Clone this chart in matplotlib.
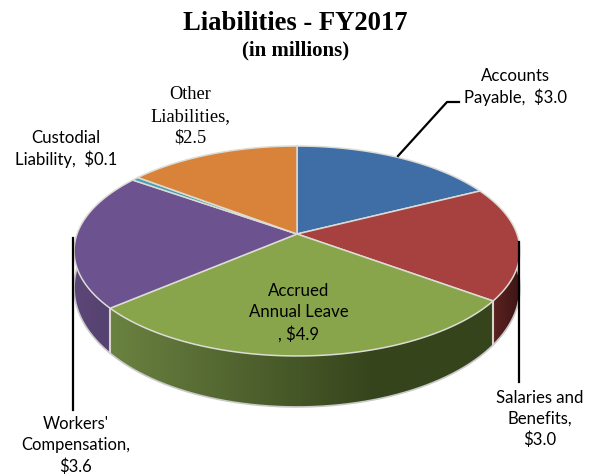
import numpy as np
import matplotlib
matplotlib.use('Agg')
import matplotlib.pyplot as plt
from matplotlib.patches import Polygon

# Liabilities by category, in millions
categories = ['Accounts Payable', 'Salaries and Benefits', 'Accrued Annual Leave',
              "Workers' Compensation", 'Custodial Liability', 'Other Liabilities']
values = [3.0, 3.0, 4.9, 3.6, 0.1, 2.5]
top_colors = ['#3f6ea6', '#a64140', '#88a54c', '#6d5290', '#4a9fb5', '#d9823a']
side_colors = [('#2c4d75', '#2c4d75'), ('#5c2322', '#3c1413'), ('#6a8241', '#36441c'),
               ('#5c4779', '#55416f'), ('#3a8093', '#3a8093'), ('#b06a2e', '#b06a2e')]

# Perspective disc: centre and radii in pixels
cx, cy = 297, 235
a, b, k = 220, 102.2, 0.162


def rim(theta, lower=False):
    # theta runs clockwise from 12 o'clock
    u, s = np.sin(theta), -np.cos(theta)
    w = 1 - k * s
    x = cx + a * u / w
    y = cy + b * s / w
    if lower:
        y = y + 34 + 17 * s
    return x, y


fig = plt.figure(figsize=(5.95, 4.77), dpi=100)
ax = fig.add_axes([0, 0, 1, 1])
ax.set_xlim(0, 595)
ax.set_ylim(477, 0)
ax.axis('off')

edges = np.concatenate([[0], np.cumsum(values)]) / sum(values) * 2 * np.pi

# Side wall, only the part of each slice facing the viewer
front_a, front_b = np.radians(84), np.radians(276)
for i in range(len(values)):
    t0, t1 = max(edges[i], front_a), min(edges[i + 1], front_b)
    if t1 <= t0:
        continue
    t = np.linspace(t0, t1, 120)
    x0, y0 = rim(t)
    x1, y1 = rim(t, lower=True)
    left, right = side_colors[i]
    c0 = np.array(matplotlib.colors.to_rgb(left))
    c1 = np.array(matplotlib.colors.to_rgb(right))
    ramp = np.linspace(0, 1, 256)[None, :, None]
    if i == 2:
        # the long front slice stays lighter on its left half
        ramp = np.clip(ramp * 1.45, 0, 1)
    img = c0[None, None, :] * (1 - ramp) + c1[None, None, :] * ramp
    xs = np.concatenate([x0, x1[::-1]])
    ys = np.concatenate([y0, y1[::-1]])
    poly = Polygon(np.column_stack([xs, ys]), closed=True, fc='none', ec='none')
    ax.add_patch(poly)
    im = ax.imshow(img, extent=[xs.min(), xs.max(), ys.max(), ys.min()],
                   aspect='auto', zorder=1)
    im.set_clip_path(poly)

ax.set_xlim(0, 595)
ax.set_ylim(477, 0)

# Light seams between side walls and along the bottom edge
t = np.linspace(front_a, front_b, 300)
ax.plot(*rim(t, lower=True), color='#c9c9c9', lw=1.2, zorder=2)
for e in edges[1:4]:
    if front_a < e < front_b:
        xa, ya = rim(e)
        xb, yb = rim(e, lower=True)
        ax.plot([xa, xb], [ya, yb], color='#d5d5c8', lw=1.5, zorder=2)

# Top face
for i in range(len(values)):
    t = np.linspace(edges[i], edges[i + 1], 120)
    x, y = rim(t)
    ax.fill(np.r_[cx, x], np.r_[cy, y], fc=top_colors[i], ec='#dcdcd4', lw=1.1,
            joinstyle='round', zorder=3)

# Leader lines
ax.plot([398, 447, 459], [157, 103, 103], color='black', lw=1.6, zorder=4)
ax.plot([519, 519], [243, 383], color='black', lw=1.6, zorder=4)
ax.plot([72.5, 72.5], [239, 411], color='black', lw=1.6, zorder=4)

sans = 'Lato'
serif = 'Liberation Serif'
fs = 12.1
ax.text(295.5, 23, 'Liabilities - FY2017', family=serif, weight='bold', fontsize=19.2,
        ha='center', va='center')
ax.text(296, 50, '(in millions)', family=serif, weight='bold', fontsize=15,
        ha='center', va='center')

ax.text(515.5, 87, 'Accounts\nPayable,  $3.0', family=sans, fontsize=fs, ha='center',
        va='center', linespacing=1.35, zorder=5)
ax.text(540, 419, 'Salaries and\nBenefits,\n$3.0', family=sans, fontsize=fs, ha='center',
        va='center', linespacing=1.35, zorder=5)
ax.text(299, 313, 'Accrued\nAnnual Leave\n, $4.9', family=sans, fontsize=fs, ha='center',
        va='center', linespacing=1.42, zorder=5)
ax.text(76, 445.5, "Workers'\nCompensation,\n$3.6", family=sans, fontsize=11.9, ha='center',
        va='center', linespacing=1.42, zorder=5)
ax.text(66, 149, 'Custodial\nLiability,  $0.1', family=sans, fontsize=fs, ha='center',
        va='center', linespacing=1.35, zorder=5)
ax.text(190, 116.5, 'Other\nLiabilities,\n$2.5', family=serif, fontsize=13.2, ha='center',
        va='center', linespacing=1.38, zorder=5)

fig.savefig('out.png', dpi=100)
